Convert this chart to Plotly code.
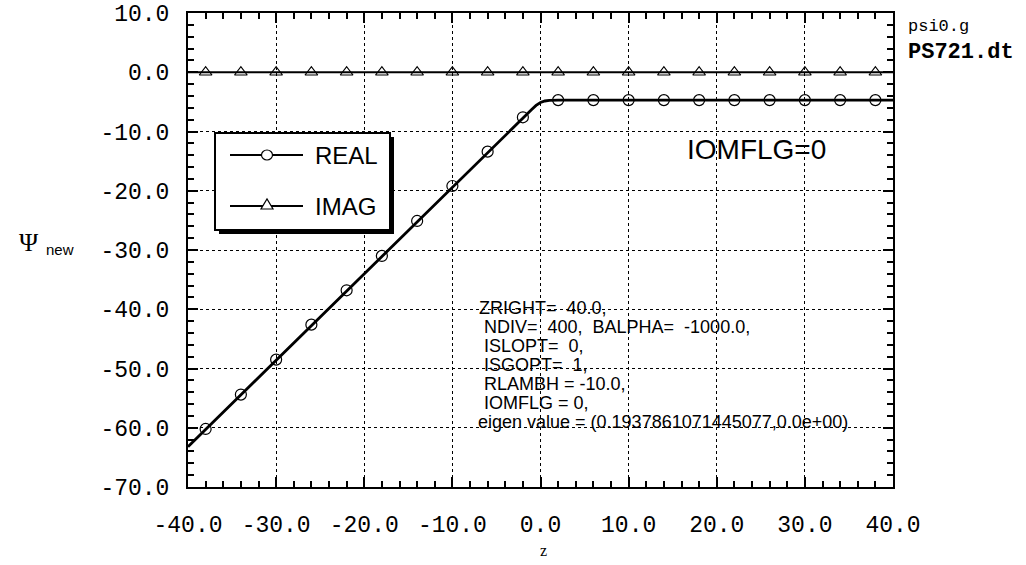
import plotly.graph_objects as go

# ---------------- data ----------------
x_markers = [-38, -34, -30, -26, -22, -18, -14, -10, -6, -2,
             2, 6, 10, 14, 18, 22, 26, 30, 34, 38]
real_markers = [-60.2, -54.4, -48.5, -42.6, -36.8, -31.0, -25.1, -19.2, -13.4, -7.6,
                -4.7, -4.7, -4.7, -4.7, -4.7, -4.7, -4.7, -4.7, -4.7, -4.7]
imag_markers = [0.0] * 20

x_line = [-40, -2, -1, -0.5, 0, 0.5, 1, 2, 40]
real_line = [-63.2, -7.6, -6.3, -5.6, -5.1, -4.85, -4.75, -4.7, -4.7]
imag_line = [0.0, 0.0, 0.0, 0.0, 0.0, 0.0, 0.0, 0.0, 0.0]

x_tickvals = [-40, -30, -20, -10, 0, 10, 20, 30, 40]
x_ticktext = ["-40.0", "-30.0", "-20.0", "-10.0", "0.0", "10.0", "20.0", "30.0", "40.0"]
y_tickvals = [10, 0, -10, -20, -30, -40, -50, -60, -70]
y_ticktext = ["10.0", "0.0", "-10.0", "-20.0", "-30.0", "-40.0", "-50.0", "-60.0", "-70.0"]

param_lines = [
    "ZRIGHT=\u00a0\u00a040.0,",
    "\u00a0NDIV=\u00a0\u00a0400,\u00a0\u00a0BALPHA=\u00a0\u00a0-1000.0,",
    "\u00a0ISLOPT=\u00a0\u00a00,",
    "\u00a0ISGOPT=\u00a0\u00a01,",
    "\u00a0RLAMBH\u00a0=\u00a0-10.0,",
    "\u00a0IOMFLG\u00a0=\u00a00,",
    "eigen\u00a0value\u00a0=\u00a0(0.1937861071445077,0.0e+00)",
]

# ---------------- layout geometry ----------------
W, H = 1026, 565
L, R, T, B = 188, 893, 13, 487


def px(xp):
    return (xp - L) / (R - L)


def py(yp):
    return (B - yp) / (B - T)


fig = go.Figure()
fig.add_trace(go.Scatter(x=x_line, y=imag_line, mode="lines",
                         line=dict(color="black", width=2), showlegend=False))
fig.add_trace(go.Scatter(x=x_markers, y=imag_markers, mode="markers",
                         marker=dict(symbol="triangle-up-open", size=11, color="black",
                                     line=dict(width=1.2, color="black")),
                         showlegend=False, name="IMAG"))
fig.add_trace(go.Scatter(x=x_line, y=real_line, mode="lines",
                         line=dict(color="black", width=2.8), showlegend=False))
fig.add_trace(go.Scatter(x=x_markers, y=real_markers, mode="markers",
                         marker=dict(symbol="circle-open", size=11, color="black",
                                     line=dict(width=1.2, color="black")),
                         showlegend=False, name="REAL"))

axis_common = dict(
    showline=True, linecolor="black", linewidth=2, mirror="allticks",
    ticks="inside", ticklen=10, tickwidth=2, tickcolor="black",
    showgrid=True, gridcolor="black", gridwidth=1, griddash="dot",
    zeroline=False, automargin=False,
    tickfont=dict(family="Liberation Mono, Courier New, monospace", size=23, color="black"),
)
x_minor_vals = [v for v in range(-40, 41, 2) if v % 10 != 0]
y_minor_vals = [v for v in range(-70, 11, 2) if v % 10 != 0]

fig.update_xaxes(range=[-40, 40], tickmode="array", tickvals=x_tickvals, ticktext=x_ticktext,
                 ticklabelstandoff=15,
                 minor=dict(tickmode="array", tickvals=x_minor_vals, ticks="inside", ticklen=6,
                            tickcolor="black", tickwidth=1.5, showgrid=False),
                 **axis_common)
fig.update_yaxes(range=[-70, 10], tickmode="array", tickvals=y_tickvals, ticktext=y_ticktext,
                 ticklabelstandoff=12,
                 minor=dict(tickmode="array", tickvals=y_minor_vals, ticks="inside", ticklen=6,
                            tickcolor="black", tickwidth=1.5, showgrid=False),
                 **axis_common)

shapes = []
# legend box with shadow
shapes.append(dict(type="rect", xref="paper", yref="paper",
                   x0=px(219), x1=px(394), y0=py(234), y1=py(137),
                   fillcolor="black", line=dict(width=0)))
shapes.append(dict(type="rect", xref="paper", yref="paper",
                   x0=px(215), x1=px(390), y0=py(230), y1=py(133),
                   fillcolor="white", line=dict(color="black", width=2)))
# legend samples
for yy in (155, 206):
    shapes.append(dict(type="line", xref="paper", yref="paper",
                       x0=px(230), x1=px(303), y0=py(yy), y1=py(yy),
                       line=dict(color="black", width=2)))
shapes.append(dict(type="circle", xref="paper", yref="paper",
                   xsizemode="pixel", ysizemode="pixel",
                   xanchor=px(267), yanchor=py(155), x0=-5.5, x1=5.5, y0=-5, y1=5,
                   fillcolor="white", line=dict(color="black", width=1.2)))
shapes.append(dict(type="path", xref="paper", yref="paper",
                   xsizemode="pixel", ysizemode="pixel",
                   xanchor=px(267), yanchor=py(206),
                   path="M -6,-3 L 6,-3 L 0,7 Z",
                   fillcolor="white", line=dict(color="black", width=1.2)))
fig.update_layout(shapes=shapes)

ann = []
sans = "Liberation Sans, Arial, Helvetica, sans-serif"
ann.append(dict(text="REAL", x=px(313), y=py(155), xref="paper", yref="paper",
                xanchor="left", yanchor="middle", showarrow=False,
                font=dict(family=sans, size=24, color="black")))
ann.append(dict(text="IMAG", x=px(313), y=py(206), xref="paper", yref="paper",
                xanchor="left", yanchor="middle", showarrow=False,
                font=dict(family=sans, size=24, color="black")))
ann.append(dict(text="IOMFLG=0", x=px(685), y=py(149), xref="paper", yref="paper",
                xanchor="left", yanchor="middle", showarrow=False,
                font=dict(family=sans, size=28, color="black")))
line_y = [308, 327, 346, 365, 384, 403, 422]
line_x = [477, 477, 477, 477, 477, 477, 476]
for t, xx, yy in zip(param_lines, line_x, line_y):
    ann.append(dict(text=t, x=px(xx), y=py(yy), xref="paper", yref="paper",
                    xanchor="left", yanchor="middle", showarrow=False,
                    font=dict(family=sans, size=18, color="black")))
ann.append(dict(text="psi0.g", x=px(906), y=py(26), xref="paper", yref="paper",
                xanchor="left", yanchor="middle", showarrow=False,
                font=dict(family="Liberation Mono, Courier New, monospace", size=17, color="black")))
ann.append(dict(text="<b>PS721.dt</b>", x=px(906), y=py(53), xref="paper", yref="paper",
                xanchor="left", yanchor="middle", showarrow=False,
                font=dict(family="Liberation Mono, Courier New, monospace", size=22, color="black")))
ann.append(dict(text="\u03a8", x=px(29), y=py(242), xref="paper", yref="paper",
                xanchor="center", yanchor="middle", showarrow=False,
                font=dict(family="Liberation Serif, Times New Roman, serif", size=26, color="black")))
ann.append(dict(text="new", x=px(44), y=py(249), xref="paper", yref="paper",
                xanchor="left", yanchor="middle", showarrow=False,
                font=dict(family=sans, size=15, color="black")))
ann.append(dict(text="z", x=px(543), y=py(550), xref="paper", yref="paper",
                xanchor="center", yanchor="middle", showarrow=False,
                font=dict(family="Liberation Serif, Times New Roman, serif", size=16, color="black")))
fig.update_layout(annotations=ann)

fig.update_layout(width=W, height=H, margin=dict(l=L, r=W - R, t=T, b=H - B, pad=0),
                  paper_bgcolor="white", plot_bgcolor="white", showlegend=False)

fig.write_html("out.html", config={"displayModeBar": False},
               post_script="document.body.style.margin='0';")
